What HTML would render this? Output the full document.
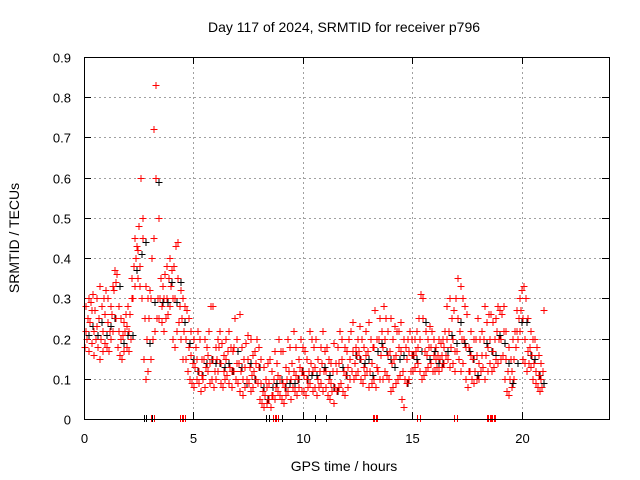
<!DOCTYPE html>
<html><head><meta charset="utf-8"><style>
body{margin:0;background:#fff}
svg{display:block;font-family:"Liberation Sans",sans-serif}
</style></head><body>
<svg id="chart" width="640" height="480" viewBox="0 0 640 480">
<text x="344" y="32" font-size="14" text-anchor="middle">Day 117 of 2024, SRMTID for receiver p796</text>
<text x="344" y="471" font-size="14" text-anchor="middle">GPS time / hours</text>
<text transform="translate(19,238) rotate(-90)" font-size="14" text-anchor="middle">SRMTID / TECUs</text>
<g id="grid"></g>
<g id="ticks"></g>
<g id="blk"></g>
<g id="red"></g>
<rect x="84.5" y="57.5" width="525" height="362" fill="none" stroke="#000" stroke-width="1" shape-rendering="crispEdges"/>
</svg>
<script>
const xTicks=[0,5,10,15,20];
const yTicks=[0,0.1,0.2,0.3,0.4,0.5,0.6,0.7,0.8,0.9];
const binHours=0.1;
const lo=[.18,.2,.17,.19,.16,.2,.18,.15,.17,.19, .18,.17,.2,.22,.25,.18,.16,.15,.17,.18, .17,.2,.3,.33,.35,.33,.3,.15,.1,.12, .15,.2,.22,.25,.25,.24,.22,.25,.26,.28, .2,.18,.22,.24,.2,.15,.15,.12,.1,.09, .08,.1,.09,.07,.1,.08,.12,.09,.1,.08, .1,.12,.09,.08,.1,.11,.09,.08,.12,.1, .09,.07,.06,.08,.1,.09,.07,.08,.1,.09, .05,.04,.03,.04,.05,.03,.06,.05,.07,.06, .05,.04,.06,.07,.05,.08,.07,.06,.08,.07, .07,.06,.08,.09,.07,.08,.06,.08,.09,.07, .08,.06,.05,.07,.04,.07,.08,.09,.07,.06, .08,.1,.12,.1,.11,.12,.1,.09,.11,.12, .08,.09,.1,.08,.12,.1,.1,.12,.11,.1, .07,.08,.09,.1,.11,.05,.03,.09,.1,.12, .12,.13,.14,.12,.1,.11,.12,.13,.14,.12, .12,.13,.12,.13,.14,.16,.15,.13,.14,.12, .17,.15,.12,.14,.1,.08,.12,.1,.09,.1, .1,.12,.13,.1,.12,.14,.12,.13,.15,.14, .15,.16,.1,.07,.06,.08,.1,.18,.2,.22, .15,.14,.12,.14,.13,.1,.09,.08,.07,.08];
const mid=[.22,.25,.24,.27,.22,.23,.25,.2,.22,.26, .24,.22,.26,.32,.34,.22,.2,.21,.22,.23, .22,.3,.38,.4,.42,.38,.45,.25,.2,.25, .3,.45,.6,.3,.3,.28,.3,.3,.35,.33, .3,.3,.35,.28,.25,.22,.2,.18,.16,.14, .13,.15,.12,.11,.15,.13,.16,.14,.15,.12, .15,.18,.14,.12,.15,.17,.13,.12,.18,.14, .14,.12,.1,.13,.15,.13,.11,.12,.14,.13, .09,.07,.06,.08,.09,.06,.1,.08,.11,.1, .09,.08,.1,.12,.1,.12,.11,.1,.13,.12, .11,.1,.12,.14,.12,.13,.1,.12,.14,.12, .12,.1,.09,.12,.08,.12,.14,.15,.12,.11, .13,.15,.17,.14,.16,.17,.15,.13,.16,.17, .12,.14,.18,.13,.2,.16,.18,.2,.16,.17, .14,.15,.16,.18,.17,.12,.1,.15,.17,.16, .16,.17,.18,.2,.25,.17,.16,.18,.18,.16, .15,.16,.15,.16,.18,.2,.22,.18,.2,.17, .25,.22,.2,.2,.18,.12,.16,.15,.12,.16, .14,.16,.2,.16,.18,.2,.17,.2,.22,.2, .2,.22,.15,.12,.1,.12,.15,.22,.25,.27, .25,.2,.17,.18,.16,.14,.12,.11,.1,.12];
const hi=[.28,.3,.29,.31,.27,.3,.33,.28,.3,.32, .3,.28,.33,.37,.36,.28,.25,.24,.26,.28, .26,.35,.45,.43,.48,.6,.5,.33,.3,.32, .4,.72,.83,.5,.35,.33,.36,.38,.4,.37, .38,.43,.44,.32,.3,.28,.27,.25,.22,.2, .18,.22,.2,.15,.2,.18,.22,.28,.28,.18, .2,.22,.19,.16,.2,.22,.18,.17,.25,.2, .26,.18,.15,.19,.21,.2,.16,.17,.2,.18, .15,.13,.1,.14,.15,.12,.17,.14,.2,.17, .17,.13,.2,.18,.14,.22,.18,.15,.2,.18, .17,.15,.22,.2,.18,.2,.15,.18,.22,.17, .18,.15,.14,.19,.14,.18,.22,.2,.18,.17, .2,.22,.24,.18,.2,.23,.2,.18,.22,.24, .2,.18,.27,.2,.25,.22,.28,.25,.22,.25, .2,.23,.22,.22,.24,.2,.18,.2,.22,.2, .2,.22,.25,.31,.3,.22,.2,.23,.22,.2, .18,.2,.19,.2,.22,.28,.3,.25,.27,.3, .35,.33,.3,.28,.26,.18,.22,.2,.2,.25, .2,.22,.28,.24,.26,.26,.24,.25,.28,.27, .26,.28,.22,.18,.15,.2,.22,.27,.3,.32, .33,.3,.25,.22,.2,.2,.18,.16,.14,.27];
const zeroRed=[3.15,4.5,4.55,8.75,8.8,13.3,13.35,15.3,17.0,18.5,18.55,18.7,18.75];
const zeroBlack=[2.75,2.85,3.1,8.3,8.45,9.05,10.55,11.05];
const X=t=>Math.round(84+t*525/24)+0.5, Y=v=>Math.round(419-v*362/0.9)+0.5;
const NS="http://www.w3.org/2000/svg";
function mk(tag,parent,attrs){const e=document.createElementNS(NS,tag);for(const k in attrs)e.setAttribute(k,attrs[k]);parent.appendChild(e);return e;}
const grid=document.getElementById('grid'),ticks=document.getElementById('ticks'),svg=document.getElementById('chart');
xTicks.forEach(t=>{const x=X(t);
 if(t>0){const g=mk('line',grid,{x1:x,x2:x,y1:57,y2:419,stroke:'#a0a0a0','stroke-dasharray':'2,3','shape-rendering':'crispEdges'});
 
 }
 const a=mk('path',ticks,{d:`M${x} 419v-7M${x} 57v7`,stroke:'#000','shape-rendering':'crispEdges'});
 
 
 const l=mk('text',svg,{x:x,y:443,'font-size':13,'text-anchor':'middle'});l.textContent=t;
 
 });
yTicks.forEach(v=>{const y=Y(v);
 if(v>0){const g=mk('line',grid,{x1:84,x2:609,y1:y,y2:y,stroke:'#a0a0a0','stroke-dasharray':'2,3','shape-rendering':'crispEdges'});
 
 }
 const a=mk('path',ticks,{d:`M84 ${y}h7M609 ${y}h-7`,stroke:'#000','shape-rendering':'crispEdges'});
 
 
 const l=mk('text',svg,{x:71,y:y+5,'font-size':13,'text-anchor':'end'});l.textContent=v===0?'0':v.toFixed(1);
 
 });
function cross(x,y){return `M${x-3} ${y}h7M${x+0.5} ${y-3.5}v7`;}
let rd='';
for(let i=0;i<lo.length;i++){const t=i*binHours;
 rd+=cross(X(t),Y(lo[i]))+cross(X(t+0.033),Y(mid[i]))+cross(X(t+0.066),Y(hi[i]));}
let bd='';
for(let i=0;i<mid.length;i+=2){bd+=cross(X(i*binHours+0.05)+3,Y(mid[i])+4);}
const b=mk('path',document.getElementById('blk'),{d:bd+zeroBlack.map(t=>`M${X(t)} 415v7`).join(''),stroke:'#000','stroke-width':1,fill:'none','shape-rendering':'crispEdges'});


const r=mk('path',document.getElementById('red'),{d:rd+zeroRed.map(t=>`M${X(t)-2} 415v7M${X(t)+1} 415v7`).join(''),stroke:'#f00','stroke-width':1,fill:'none','shape-rendering':'crispEdges'});


</script>
</body></html>
